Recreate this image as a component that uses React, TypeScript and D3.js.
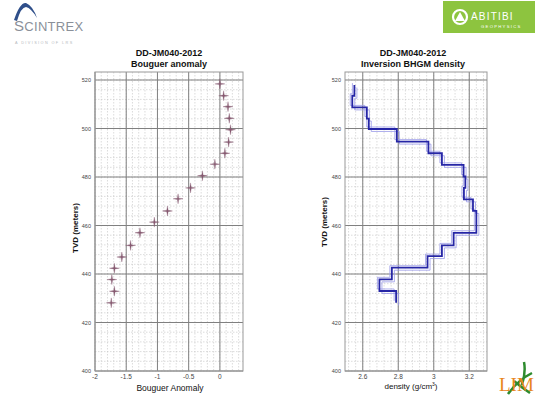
import * as d3 from 'd3';

// Bouguer anomaly stations
const stationDepth = [518.4, 513.5, 509, 504.2, 499.5, 494.4, 489.8, 485.3, 480.5, 475.5, 471, 466, 461.4, 457, 451.8, 447, 442.4, 437.7, 432.9, 428.1];
const bouguer = [0.0, 0.06, 0.13, 0.15, 0.17, 0.14, 0.08, -0.08, -0.28, -0.47, -0.67, -0.84, -1.05, -1.28, -1.43, -1.57, -1.69, -1.73, -1.69, -1.74];

// Inversion density model (layer tops, last entry = base of model)
const layerBounds = [517.9, 513.5, 508.7, 504.1, 499.8, 494.6, 489.8, 485.0, 480.2, 475.5, 470.8, 466.0, 461.4, 457.0, 451.8, 447.4, 442.6, 437.8, 433.0, 428.1];
const layerDensity = [2.553, 2.541, 2.623, 2.634, 2.792, 2.97, 3.046, 3.168, 3.178, 3.17, 3.221, 3.24, 3.24, 3.112, 3.046, 2.965, 2.764, 2.694, 2.788];

const depthTicks = [400, 420, 440, 460, 480, 500, 520];
const bouguerTicks = [-2, -1.5, -1, -0.5, 0];
const densityTicks = [2.6, 2.8, 3, 3.2];

const FONT = 'Arial, "Liberation Sans", sans-serif';

const y = d3.scaleLinear().domain([400, 523.3]).range([371, 72]);
const xB = d3.scaleLinear().domain([-2, 0.37]).range([95, 243]);
const xD = d3.scaleLinear().domain([2.5, 3.3]).range([345, 487]);

function Grid({ x, xStep, xMajor }: { x: d3.ScaleLinear<number, number>; xStep: number; xMajor: number[] }) {
  const [x0, x1] = x.domain();
  const xMinor = d3.range(Math.ceil(x0 / xStep) * xStep, x1, xStep);
  const yMinor = d3.range(400, 523.3, 4);
  const [l, r] = x.range();
  const [b, t] = y.range();
  return (
    <g>
      <rect x={l} y={t} width={r - l} height={b - t} fill="#fff" />
      {xMinor.map((v, i) => (
        <line key={'xm' + i} x1={x(v)} x2={x(v)} y1={t} y2={b} stroke="#c4c4c4" strokeWidth={0.6} strokeDasharray="1.5,1.5" />
      ))}
      {yMinor.map((v, i) => (
        <line key={'ym' + i} x1={l} x2={r} y1={y(v)} y2={y(v)} stroke="#c4c4c4" strokeWidth={0.6} strokeDasharray="1.5,1.5" />
      ))}
      {xMajor.map((v) => (
        <line key={'xM' + v} x1={x(v)} x2={x(v)} y1={t} y2={b} stroke="#808080" strokeWidth={1} />
      ))}
      {depthTicks.map((v) => (
        <line key={'yM' + v} x1={l} x2={r} y1={y(v)} y2={y(v)} stroke="#808080" strokeWidth={1} />
      ))}
      <rect x={l} y={t} width={r - l} height={b - t} fill="none" stroke="#999" strokeWidth={1} />
      {depthTicks.map((v) => (
        <text key={'yl' + v} x={l - 4} y={y(v) + 2} fontSize={5.5} textAnchor="end" fill="#444" fontFamily={FONT}>{v}</text>
      ))}
      {xMajor.map((v) => (
        <text key={'xl' + v} x={x(v)} y={b + 8} fontSize={6.5} textAnchor="middle" fill="#444" fontFamily={FONT}>{v}</text>
      ))}
    </g>
  );
}

const star = 'M0,-5 L0.7,-0.7 L5,0 L0.7,0.7 L0,5 L-0.7,0.7 L-5,0 L-0.7,-0.7Z';

export default function App() {
  const steps: [number, number][] = [];
  layerDensity.forEach((d, i) => {
    steps.push([d, layerBounds[i]]);
    steps.push([d, layerBounds[i + 1]]);
  });
  const line = d3.line<[number, number]>().x((p) => xD(p[0])).y((p) => y(p[1]));
  const path = line(steps) || '';

  return (
    <div style={{ position: 'absolute', left: 0, top: 0 }}>
      <svg width={535} height={400} style={{ display: 'block', background: '#fff' }}>
        {/* Scintrex logo */}
        <path d="M14,20 Q20,2 26,3 Q33,6 37,18 Q31,8 26,7 Q21,7 17,21Z" fill="#2f4f8a" />
        <text x={14} y={31} fontSize={13} fill="#8a9099" fontFamily={FONT} letterSpacing={0.3}>
          <tspan fontSize={15}>S</tspan>CINTREX
        </text>
        <text x={15} y={44} fontSize={3.8} fill="#b5b9be" fontFamily={FONT} letterSpacing={1.4}>A DIVISION OF LRS</text>

        {/* Abitibi logo */}
        <rect x={443} y={1} width={92} height={32} fill="#8dc43f" />
        <circle cx={460} cy={17} r={7} fill="none" stroke="#fff" strokeWidth={2.2} />
        <path d="M455,21 L460,12 L465,21Z" fill="#fff" />
        <text x={471} y={20} fontSize={10} fill="#fff" fontFamily={FONT} letterSpacing={1.2}>ABITIBI</text>
        <text x={481} y={28} fontSize={4.2} fill="#fff" fontFamily={FONT} letterSpacing={1.3}>GEOPHYSICS</text>

        {/* Left panel */}
        <text x={169} y={56} fontSize={9} fontWeight="bold" textAnchor="middle" fontFamily={FONT} fill="#111">DD-JM040-2012</text>
        <text x={169} y={67} fontSize={9} fontWeight="bold" textAnchor="middle" fontFamily={FONT} fill="#111">Bouguer anomaly</text>
        <Grid x={xB} xStep={0.1} xMajor={bouguerTicks} />
        {bouguer.map((v, i) => (
          <path key={i} d={star} transform={`translate(${xB(v)},${y(stationDepth[i])})`} fill="#865a70" stroke="#865a70" strokeWidth={0.3} />
        ))}
        <text transform="translate(78,228) rotate(-90)" fontSize={8} fontWeight="bold" textAnchor="middle" fontFamily={FONT} fill="#111">TVD (meters)</text>
        <text x={170} y={391} fontSize={8.5} textAnchor="middle" fontFamily={FONT} fill="#111">Bouguer Anomaly</text>

        {/* Right panel */}
        <text x={413} y={56} fontSize={9} fontWeight="bold" textAnchor="middle" fontFamily={FONT} fill="#111">DD-JM040-2012</text>
        <text x={413} y={67} fontSize={9} fontWeight="bold" textAnchor="middle" fontFamily={FONT} fill="#111">Inversion BHGM density</text>
        <Grid x={xD} xStep={0.04} xMajor={densityTicks} />
        <path d={path} fill="none" stroke="#9a9ae8" strokeWidth={0.8} transform="translate(2.5,2.5)" />
        <path d={path} fill="none" stroke="#9a9ae8" strokeWidth={0.8} transform="translate(-2,-2)" />
        <path d={path} fill="none" stroke="#2626a6" strokeWidth={1.8} />
        <text transform="translate(327,222) rotate(-90)" fontSize={8} fontWeight="bold" textAnchor="middle" fontFamily={FONT} fill="#111">TVD (meters)</text>
        <text x={411} y={389} fontSize={8} textAnchor="middle" fontFamily={FONT} fill="#111">
          density (g/cm<tspan fontSize={5} dy={-3}>3</tspan><tspan dy={3}>)</tspan>
        </text>

        {/* LIM logo corner */}
        <path d="M508,394 Q518,380 532,373 M514,381 Q521,387 530,393 M524,362 Q526,372 522,385" stroke="#2e8b2e" strokeWidth={2.5} fill="none" />
        <text x={499} y={391} fontSize={19} fontFamily="'Liberation Serif', serif" fill="#e8861c">LIM</text>
      </svg>
    </div>
  );
}
